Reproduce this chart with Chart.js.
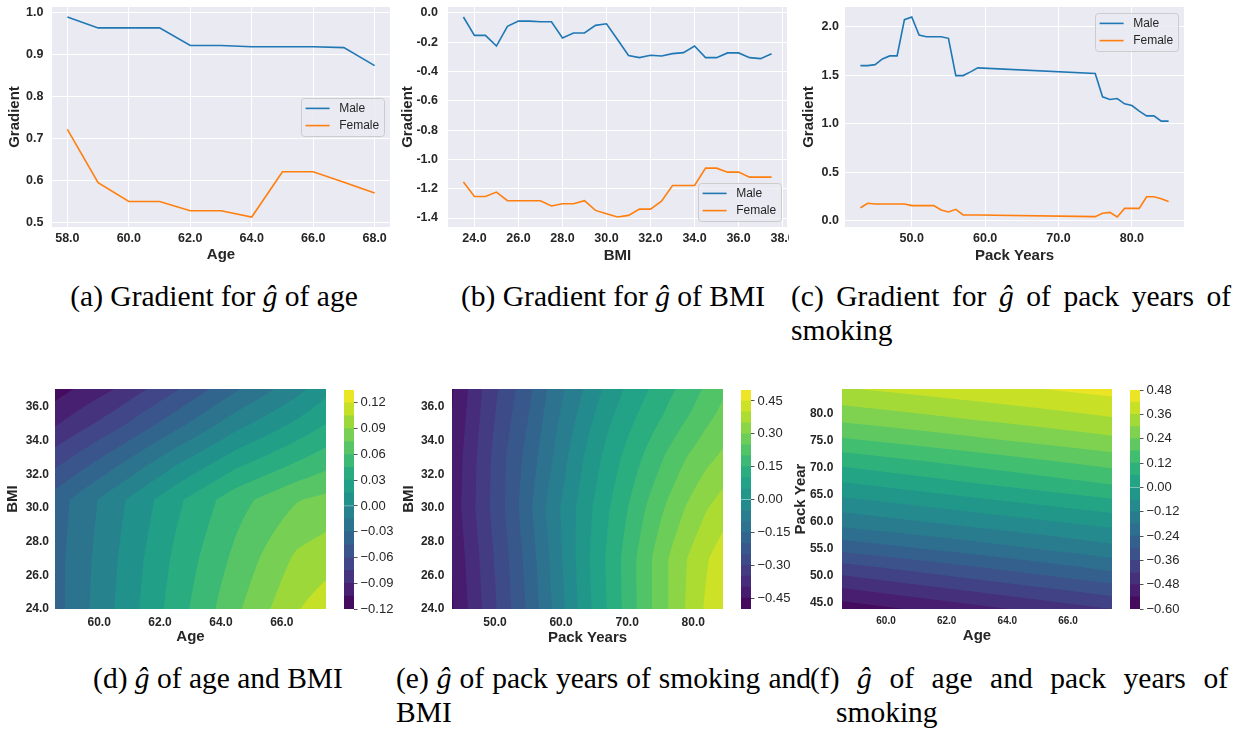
<!DOCTYPE html>
<html>
<head>
<meta charset="utf-8">
<script src="https://cdn.jsdelivr.net/npm/chart.js@4.4.1/dist/chart.umd.min.js"></script>
<style>
  html, body { margin: 0; padding: 0; background: #ffffff; }
  body { position: relative; width: 1239px; height: 732px; overflow: hidden; }
  .clip { position: absolute; overflow: hidden; }
  .clip canvas { position: absolute; }
  .cap { position: absolute; font-family: "Liberation Serif", "Times New Roman", serif; font-size: 29.5px;
         line-height: 34px; color: #000; white-space: nowrap; }
  .cap.just { text-align: justify; text-align-last: justify; }
  .cap.mid { text-align: center; }
</style>
</head>
<body>

<div class="cap mid" style="left:14px; top:279px; width:400px;">(a) Gradient for <i>ĝ</i> of age</div>
<div class="cap mid" style="left:413px; top:279px; width:400px;">(b) Gradient for <i>ĝ</i> of BMI</div>
<div class="cap just" style="left:791px; top:279px; width:440px;">(c) Gradient for <i>ĝ</i> of pack years of</div>
<div class="cap" style="left:791px; top:313px;">smoking</div>

<div class="cap mid" style="left:18px; top:661px; width:400px;">(d) <i>ĝ</i> of age and BMI</div>
<div class="cap just" style="left:396px; top:661px; width:415px;">(e) <i>ĝ</i> of pack years of smoking and</div>
<div class="cap" style="left:396px; top:695px;">BMI</div>
<div class="cap just" style="left:810px; top:661px; width:418px;">(f) <i>ĝ</i> of age and pack years of</div>
<div class="cap" style="left:836px; top:695px;">smoking</div>

<script>
// ---------- series names and colours ----------
const seriesNames = ['Male', 'Female'];
const seriesColors = ['#1f77b4', '#ff7f0e'];

// ---------- (a) gradient of g-hat along age ----------
const ageValues  = [58, 59, 60, 61, 62, 63, 64, 65, 66, 67, 68];
const ageMale    = [0.990, 0.964, 0.964, 0.964, 0.922, 0.922, 0.919, 0.919, 0.919, 0.917, 0.874];
const ageFemale  = [0.722, 0.595, 0.550, 0.550, 0.528, 0.528, 0.513, 0.621, 0.621, 0.596, 0.570];
const ageTicksX  = [58, 60, 62, 64, 66, 68];
const ageTicksY  = [0.5, 0.6, 0.7, 0.8, 0.9, 1.0];

// ---------- (b) gradient of g-hat along BMI ----------
const bmiValues  = [23.5, 24, 24.5, 25, 25.5, 26, 26.5, 27, 27.5, 28, 28.5, 29, 29.5, 30, 30.5,
                    31, 31.5, 32, 32.5, 33, 33.5, 34, 34.5, 35, 35.5, 36, 36.5, 37, 37.5];
const bmiMale    = [-0.029, -0.154, -0.154, -0.227, -0.093, -0.057, -0.057, -0.061, -0.061, -0.172,
                    -0.138, -0.138, -0.086, -0.075, -0.183, -0.292, -0.306, -0.290, -0.295, -0.279,
                    -0.272, -0.227, -0.306, -0.306, -0.274, -0.274, -0.306, -0.313, -0.279];
const bmiFemale  = [-1.155, -1.253, -1.253, -1.223, -1.282, -1.282, -1.282, -1.282, -1.318, -1.303,
                    -1.303, -1.282, -1.348, -1.371, -1.393, -1.382, -1.339, -1.339, -1.285, -1.178,
                    -1.178, -1.178, -1.060, -1.060, -1.087, -1.087, -1.121, -1.121, -1.121];
const bmiTicksX  = [24, 26, 28, 30, 32, 34, 36, 38];
const bmiTicksY  = [-1.4, -1.2, -1.0, -0.8, -0.6, -0.4, -0.2, 0.0];

// ---------- (c) gradient of g-hat along pack years ----------
const packValues = [43, 44, 45, 46, 47, 48, 49, 50, 51, 52, 53, 54, 55, 56, 57, 58, 59,
                    75, 76, 77, 78, 79, 80, 81, 82, 83, 84, 85];
const packMale   = [1.602, 1.602, 1.612, 1.671, 1.702, 1.702, 2.075, 2.103, 1.918, 1.900, 1.900, 1.900,
                    1.883, 1.499, 1.499, 1.537, 1.578,
                    1.520, 1.280, 1.252, 1.262, 1.208, 1.190, 1.132, 1.084, 1.084, 1.029, 1.029];
const packFemale = [0.137, 0.182, 0.175, 0.175, 0.175, 0.175, 0.175, 0.158, 0.158, 0.158, 0.158, 0.113,
                    0.093, 0.120, 0.062, 0.062, 0.061,
                    0.045, 0.079, 0.089, 0.041, 0.130, 0.130, 0.130, 0.250, 0.250, 0.230, 0.202];
const packTicksX = [50, 60, 70, 80];
const packTicksY = [0.0, 0.5, 1.0, 1.5, 2.0];

// ---------- (d) g-hat over age x BMI ----------
const ageBmiAge  = [58.55, 60.5, 62.5, 64.5, 66.5, 67.45];
const ageBmiBmi  = [24, 27, 30.5, 32.5, 35, 37.06];
const ageBmiZ    = [
  [-0.036,  0.000,  0.037,  0.072,  0.104, 0.113],
  [-0.036, -0.002,  0.033,  0.064,  0.093, 0.099],
  [-0.038, -0.006,  0.026,  0.054,  0.074, 0.079],
  [-0.062, -0.032,  0.000,  0.028,  0.048, 0.057],
  [-0.092, -0.066, -0.036, -0.006,  0.018, 0.030],
  [-0.112, -0.090, -0.062, -0.032, -0.005, 0.010]
];
const ageBmiLevels = [-0.12, -0.105, -0.09, -0.075, -0.06, -0.045, -0.03, -0.015, 0, 0.015,
                      0.03, 0.045, 0.06, 0.075, 0.09, 0.105, 0.12, 0.135];
const ageBmiBarTicks = [-0.12, -0.09, -0.06, -0.03, 0, 0.03, 0.06, 0.09, 0.12];
const ageBmiTicksX = [60, 62, 64, 66];
const ageBmiTicksY = [24, 26, 28, 30, 32, 34, 36];

// ---------- (e) g-hat over pack years x BMI ----------
const packBmiPack = [43.5, 46, 49, 52, 55, 58, 61, 64, 67, 70, 73, 76, 79, 82, 84.5];
const packBmiBmi  = [24, 27, 30, 33, 35.5, 37.06];
const packBmiZ    = [
  [-0.456, -0.398, -0.328, -0.261, -0.192, -0.116, -0.039,  0.036, 0.102, 0.168, 0.235, 0.296, 0.355, 0.409, 0.448],
  [-0.447, -0.388, -0.319, -0.252, -0.182, -0.106, -0.029,  0.043, 0.107, 0.170, 0.235, 0.296, 0.349, 0.395, 0.428],
  [-0.433, -0.374, -0.305, -0.239, -0.166, -0.091, -0.026,  0.036, 0.093, 0.148, 0.204, 0.256, 0.304, 0.347, 0.375],
  [-0.437, -0.379, -0.309, -0.243, -0.182, -0.116, -0.050,  0.012, 0.067, 0.115, 0.161, 0.207, 0.250, 0.286, 0.310],
  [-0.449, -0.391, -0.321, -0.261, -0.202, -0.135, -0.076, -0.018, 0.036, 0.080, 0.120, 0.157, 0.195, 0.235, 0.264],
  [-0.456, -0.398, -0.328, -0.272, -0.216, -0.148, -0.091, -0.039, 0.012, 0.059, 0.096, 0.135, 0.168, 0.209, 0.241]
];
const packBmiLevels = [-0.5, -0.45, -0.4, -0.35, -0.3, -0.25, -0.2, -0.15, -0.1, -0.05, 0,
                       0.05, 0.1, 0.15, 0.2, 0.25, 0.3, 0.35, 0.4, 0.45, 0.5];
const packBmiBarTicks = [-0.45, -0.3, -0.15, 0, 0.15, 0.3, 0.45];
const packBmiTicksX = [50, 60, 70, 80];
const packBmiTicksY = [24, 26, 28, 30, 32, 34, 36];

// ---------- (f) g-hat over age x pack years ----------
const agePackAge  = [58.55, 63, 67.45];
const agePackPack = [43.5, 47, 51, 55, 59, 63, 67, 71, 75, 79, 84.5];
const agePackZ    = [
  [-0.583, -0.506, -0.428],
  [-0.497, -0.419, -0.340],
  [-0.397, -0.316, -0.235],
  [-0.281, -0.210, -0.138],
  [-0.178, -0.117, -0.056],
  [-0.093, -0.031,  0.032],
  [-0.006,  0.059,  0.124],
  [ 0.078,  0.141,  0.203],
  [ 0.170,  0.228,  0.285],
  [ 0.254,  0.305,  0.355],
  [ 0.355,  0.399,  0.442]
];
const agePackLevels = [-0.6, -0.54, -0.48, -0.42, -0.36, -0.3, -0.24, -0.18, -0.12, -0.06, 0,
                       0.06, 0.12, 0.18, 0.24, 0.3, 0.36, 0.42, 0.48];
const agePackBarTicks = [-0.6, -0.48, -0.36, -0.24, -0.12, 0, 0.12, 0.24, 0.36, 0.48];
const agePackTicksX = [60, 62, 64, 66];
const agePackTicksY = [45, 50, 55, 60, 65, 70, 75, 80];

// ---------- shared styling ----------
const FONT = '"Liberation Sans", Arial, Helvetica, sans-serif';
const INK = '#262626';
const PANEL_BG = '#eaeaf2';
Chart.defaults.font.family = FONT;
Chart.defaults.color = INK;
Chart.defaults.animation = false;

const viridisStops = ['#440154', '#482475', '#414487', '#355f8d', '#2a788e', '#21918c',
                      '#22a884', '#44bf70', '#7ad151', '#bddf26', '#fde725'];
function hexRgb(h) { return [1, 3, 5].map(i => parseInt(h.slice(i, i + 2), 16)); }
function viridis(t) {
  t = Math.min(1, Math.max(0, t));
  const p = t * 10, i = Math.min(9, Math.floor(p)), f = p - i;
  const a = hexRgb(viridisStops[i]), b = hexRgb(viridisStops[i + 1]);
  return a.map((v, k) => Math.round(v + (b[k] - v) * f));
}
function bandColor(levels, k) {
  const c = viridis((k + 0.5) / (levels.length - 1));
  return `rgb(${c[0]},${c[1]},${c[2]})`;
}

// axis range with a 5% margin on each side
function padRange(arrays) {
  const all = [].concat(...arrays);
  const lo = Math.min(...all), hi = Math.max(...all), m = (hi - lo) * 0.05;
  return [lo - m, hi + m];
}
const fixedTicks = list => scale => { scale.ticks = list.map(v => ({ value: v })); };

// ---------- plugins ----------
const plotBackground = {
  id: 'plotBackground',
  beforeDraw(chart, args, opts) {
    const { ctx, chartArea: a } = chart;
    ctx.save();
    ctx.fillStyle = opts.color || PANEL_BG;
    ctx.fillRect(a.left, a.top, a.right - a.left, a.bottom - a.top);
    ctx.restore();
  }
};

const boxLegend = {
  id: 'boxLegend',
  afterDatasetsDraw(chart, args, opts) {
    const { ctx, chartArea: a } = chart;
    const fs = 12;
    ctx.save();
    ctx.font = `${fs}px ${FONT}`;
    const items = chart.data.datasets.map(d => ({ text: d.label, color: d.borderColor }));
    const tw = Math.max(...items.map(i => ctx.measureText(i.text).width));
    const bp = 0.4 * fs, hl = 2 * fs, tp = 0.8 * fs, rowH = 11.2, gap = 0.5 * fs, inset = 0.5 * fs;
    const w = 2 * bp + hl + tp + tw;
    const h = 2 * bp + rowH * items.length + gap * (items.length - 1);
    const x = a.right - inset - w;
    let y;
    if (opts.loc === 'upper right') y = a.top + inset;
    else if (opts.loc === 'lower right') y = a.bottom - inset - h;
    else y = (a.top + a.bottom) / 2 - h / 2;
    ctx.beginPath();
    ctx.roundRect(Math.round(x) + 0.5, Math.round(y) + 0.5, Math.round(w), Math.round(h), 3);
    ctx.fillStyle = 'rgba(234,234,242,0.8)';
    ctx.fill();
    ctx.strokeStyle = '#cccccc';
    ctx.lineWidth = 1;
    ctx.stroke();
    items.forEach((it, i) => {
      const cy = y + bp + rowH / 2 + i * (rowH + gap);
      ctx.beginPath();
      ctx.moveTo(x + bp, cy);
      ctx.lineTo(x + bp + hl, cy);
      ctx.strokeStyle = it.color;
      ctx.lineWidth = 1.6;
      ctx.stroke();
      ctx.fillStyle = INK;
      ctx.textBaseline = 'middle';
      ctx.textAlign = 'left';
      ctx.fillText(it.text, x + bp + hl + tp, cy);
    });
    ctx.restore();
  }
};

function locate(nodes, v) {
  let i = 0;
  while (i < nodes.length - 2 && v > nodes[i + 1]) i++;
  let f = (v - nodes[i]) / (nodes[i + 1] - nodes[i]);
  return { i, f: Math.max(0, Math.min(1, f)) };
}

// filled contour bands of a gridded surface, drawn through the chart's scales
const contourFill = {
  id: 'contourFill',
  beforeDatasetsDraw(chart, args, opts) {
    const s = opts.surface;
    if (!s) return;
    const { ctx, chartArea: a, scales } = chart;
    const x0 = Math.round(a.left), y0 = Math.round(a.top);
    const w = Math.round(a.right) - x0, h = Math.round(a.bottom) - y0;
    const SS = 3;
    const cols = [], rows = [];
    for (let i = 0; i < w * SS; i++) cols.push(locate(s.x, scales.x.getValueForPixel(x0 + (i + 0.5) / SS)));
    for (let j = 0; j < h * SS; j++) rows.push(locate(s.y, scales.y.getValueForPixel(y0 + (j + 0.5) / SS)));
    const N = s.levels.length - 1;
    const pal = [];
    for (let k = 0; k < N; k++) pal.push(viridis((k + 0.5) / N));
    const off = document.createElement('canvas');
    off.width = w; off.height = h;
    const octx = off.getContext('2d');
    const img = octx.createImageData(w, h);
    for (let py = 0; py < h; py++) {
      for (let px = 0; px < w; px++) {
        let r = 0, g = 0, b = 0;
        for (let sy = 0; sy < SS; sy++) {
          const R = rows[py * SS + sy];
          const zr0 = s.z[R.i], zr1 = s.z[R.i + 1];
          for (let sx = 0; sx < SS; sx++) {
            const C = cols[px * SS + sx];
            const top = zr0[C.i] * (1 - C.f) + zr0[C.i + 1] * C.f;
            const bot = zr1[C.i] * (1 - C.f) + zr1[C.i + 1] * C.f;
            const z = top * (1 - R.f) + bot * R.f;
            let k = 0;
            while (k < N - 1 && z >= s.levels[k + 1]) k++;
            const c = pal[k];
            r += c[0]; g += c[1]; b += c[2];
          }
        }
        const o = (py * w + px) * 4, n = SS * SS;
        img.data[o] = r / n; img.data[o + 1] = g / n; img.data[o + 2] = b / n; img.data[o + 3] = 255;
      }
    }
    octx.putImageData(img, 0, 0);
    ctx.drawImage(off, x0, y0);
  }
};

// ---------- placement: a clipped box on the page, with a fixed plotting area ----------
const MARGIN = 40;
function mount(box, area, config, xAxis, yAxis) {
  const wrap = document.createElement('div');
  wrap.className = 'clip';
  Object.assign(wrap.style, { left: box.left + 'px', top: box.top + 'px', width: box.width + 'px', height: box.height + 'px' });
  const cv = document.createElement('canvas');
  cv.width = box.width + 2 * MARGIN;
  cv.height = box.height + 2 * MARGIN;
  Object.assign(cv.style, { left: -MARGIN + 'px', top: -MARGIN + 'px', width: cv.width + 'px', height: cv.height + 'px' });
  wrap.appendChild(cv);
  document.body.appendChild(wrap);
  const yRight = config.options.scales[yAxis].position === 'right';
  config.options.layout = {
    padding: {
      left: MARGIN + (yRight ? area.left - box.left : 0),
      top: MARGIN + area.top - box.top,
      right: MARGIN + (yRight ? 0 : box.left + box.width - area.right),
      bottom: MARGIN
    }
  };
  config.options.scales[xAxis].afterFit = sc => { sc.height = box.top + box.height - area.bottom; };
  config.options.scales[yAxis].afterFit = sc => {
    sc.width = yRight ? box.left + box.width - area.right : area.left - box.left;
  };
  config.options.responsive = false;
  config.options.animation = false;
  config.options.events = [];
  return new Chart(cv, config);
}

function lineChart(p) {
  const [xmin, xmax] = padRange([p.xs]);
  const [ymin, ymax] = padRange([p.male, p.female]);
  const tickFont = { size: 12.5, weight: 'bold' };
  const titleFont = { size: 15, weight: 'bold' };
  const config = {
    type: 'line',
    data: {
      datasets: [p.male, p.female].map((ys, k) => ({
        label: seriesNames[k],
        data: p.xs.map((x, i) => ({ x, y: ys[i] })),
        borderColor: seriesColors[k],
        backgroundColor: seriesColors[k],
        borderWidth: 1.6,
        pointRadius: 0,
        tension: 0,
        fill: false
      }))
    },
    options: {
      plugins: { legend: { display: false }, tooltip: { enabled: false },
                 plotBackground: { color: PANEL_BG }, boxLegend: { loc: p.legendLoc } },
      scales: {
        x: {
          type: 'linear', min: xmin, max: xmax,
          afterBuildTicks: fixedTicks(p.xTicks),
          ticks: { callback: v => v.toFixed(1), font: tickFont, color: INK, padding: p.xTickPad, maxRotation: 0, autoSkip: false },
          grid: { color: '#ffffff', lineWidth: 1, drawTicks: false },
          border: { display: false },
          title: { display: true, text: p.xTitle, font: titleFont, color: INK, padding: { top: 0, bottom: p.xTitlePad } }
        },
        y: {
          type: 'linear', min: ymin, max: ymax,
          afterBuildTicks: fixedTicks(p.yTicks),
          ticks: { callback: v => v.toFixed(1), font: tickFont, color: INK, padding: p.yTickPad, autoSkip: false },
          grid: { color: '#ffffff', lineWidth: 1, drawTicks: false },
          border: { display: false },
          title: { display: true, text: 'Gradient', font: titleFont, color: INK, padding: { top: p.yTitlePad, bottom: 0 } }
        }
      }
    },
    plugins: [plotBackground, boxLegend]
  };
  return mount(p.box, p.area, config, 'x', 'y');
}

function contourChart(p) {
  const tickFont = { size: 12, weight: 'bold' };
  const titleFont = { size: 15, weight: 'bold' };
  const config = {
    type: 'scatter',
    data: { datasets: [] },
    options: {
      plugins: { legend: { display: false }, tooltip: { enabled: false },
                 contourFill: { surface: p.surface } },
      scales: {
        x: {
          type: 'linear', min: p.xRange[0], max: p.xRange[1],
          afterBuildTicks: fixedTicks(p.xTicks),
          ticks: { callback: v => v.toFixed(1), font: p.xTickFont || tickFont, color: INK, padding: p.xTickPad, maxRotation: 0, autoSkip: false },
          grid: { display: false, drawTicks: false },
          border: { display: false },
          title: { display: true, text: p.xTitle, font: titleFont, color: INK, padding: { top: 0, bottom: p.xTitlePad } }
        },
        y: {
          type: 'linear', min: p.yRange[0], max: p.yRange[1],
          afterBuildTicks: fixedTicks(p.yTicks),
          ticks: { callback: v => v.toFixed(1), font: tickFont, color: INK, padding: p.yTickPad, autoSkip: false },
          grid: { display: false, drawTicks: false },
          border: { display: false },
          title: { display: true, text: p.yTitle, font: titleFont, color: INK, padding: { top: p.yTitlePad, bottom: 0 } }
        }
      }
    },
    plugins: [contourFill]
  };
  return mount(p.box, p.area, config, 'x', 'y');
}

const fmtBar = v => Math.abs(v) < 1e-9 ? '0.00' : (v < 0 ? '\u2212' + Math.abs(v).toFixed(2) : v.toFixed(2));

function colorBar(p) {
  const L = p.levels;
  const config = {
    type: 'bar',
    data: {
      labels: [''],
      datasets: L.slice(0, -1).map((lo, k) => ({
        data: [[lo, L[k + 1]]],
        backgroundColor: bandColor(L, k),
        borderWidth: 0,
        grouped: false,
        barPercentage: 1,
        categoryPercentage: 1
      }))
    },
    options: {
      plugins: { legend: { display: false }, tooltip: { enabled: false } },
      scales: {
        x: { ticks: { display: false }, grid: { display: false }, border: { display: false } },
        y: {
          position: 'right', min: L[0], max: L[L.length - 1],
          afterBuildTicks: fixedTicks(p.ticks),
          ticks: { callback: fmtBar, font: { size: 13 }, color: INK, padding: 3, autoSkip: false },
          grid: { drawOnChartArea: false, drawTicks: true, tickLength: 3.5, tickColor: INK, tickWidth: 0.8 },
          border: { display: false }
        }
      }
    }
  };
  return mount(p.box, p.area, config, 'x', 'y');
}

// ---------- top row: gradients ----------
lineChart({
  xs: ageValues, male: ageMale, female: ageFemale, xTicks: ageTicksX, yTicks: ageTicksY,
  xTitle: 'Age', legendLoc: 'center right',
  box: { left: 0, top: 0, width: 395, height: 270 }, area: { left: 52, top: 7, right: 390, bottom: 227 },
  xTickPad: 4.5, yTickPad: 8.5, xTitlePad: 6, yTitlePad: 5.5
});
lineChart({
  xs: bmiValues, male: bmiMale, female: bmiFemale, xTicks: bmiTicksX, yTicks: bmiTicksY,
  xTitle: 'BMI', legendLoc: 'lower right',
  box: { left: 395, top: 0, width: 394, height: 270 }, area: { left: 448, top: 7, right: 787, bottom: 227 },
  xTickPad: 4.5, yTickPad: 10, xTitlePad: 5.5, yTitlePad: 4.3
});
lineChart({
  xs: packValues, male: packMale, female: packFemale, xTicks: packTicksX, yTicks: packTicksY,
  xTitle: 'Pack Years', legendLoc: 'upper right',
  box: { left: 790, top: 0, width: 449, height: 270 }, area: { left: 845, top: 7, right: 1184, bottom: 227 },
  xTickPad: 4.5, yTickPad: 6, xTitlePad: 5, yTitlePad: 10.2
});

// ---------- bottom row: surfaces ----------
contourChart({
  surface: { x: ageBmiAge, y: ageBmiBmi, z: ageBmiZ, levels: ageBmiLevels },
  xRange: [58.55, 67.45], yRange: [24, 37.06], xTicks: ageBmiTicksX, yTicks: ageBmiTicksY,
  xTitle: 'Age', yTitle: 'BMI',
  box: { left: 0, top: 375, width: 335, height: 280 }, area: { left: 55, top: 389, right: 326, bottom: 609 },
  xTickPad: 6.3, yTickPad: 6, xTitlePad: 9, yTitlePad: 3.5
});
colorBar({ levels: ageBmiLevels, ticks: ageBmiBarTicks,
  box: { left: 344, top: 375, width: 60, height: 280 }, area: { left: 344, top: 390, right: 354, bottom: 609 } });

contourChart({
  surface: { x: packBmiPack, y: packBmiBmi, z: packBmiZ, levels: packBmiLevels },
  xRange: [43.5, 84.5], yRange: [24, 37.06], xTicks: packBmiTicksX, yTicks: packBmiTicksY,
  xTitle: 'Pack Years', yTitle: 'BMI',
  box: { left: 395, top: 375, width: 341, height: 280 }, area: { left: 452, top: 389, right: 723, bottom: 609 },
  xTickPad: 6.3, yTickPad: 7.7, xTitlePad: 8.5, yTitlePad: 5
});
colorBar({ levels: packBmiLevels, ticks: packBmiBarTicks,
  box: { left: 741, top: 375, width: 49, height: 280 }, area: { left: 741, top: 390, right: 751, bottom: 609 } });

contourChart({
  surface: { x: agePackAge, y: agePackPack, z: agePackZ, levels: agePackLevels },
  xRange: [58.55, 67.45], yRange: [43.8, 84.5], xTicks: agePackTicksX, yTicks: agePackTicksY,
  xTitle: 'Age', yTitle: 'Pack Year', xTickFont: { size: 10, weight: 'bold' },
  box: { left: 785, top: 375, width: 340, height: 280 }, area: { left: 842, top: 389, right: 1112, bottom: 609 },
  xTickPad: 6.5, yTickPad: 8.7, xTitlePad: 10, yTitlePad: 7
});
colorBar({ levels: agePackLevels, ticks: agePackBarTicks,
  box: { left: 1130, top: 375, width: 80, height: 280 }, area: { left: 1130, top: 390, right: 1140, bottom: 609 } });
</script>
</body>
</html>
